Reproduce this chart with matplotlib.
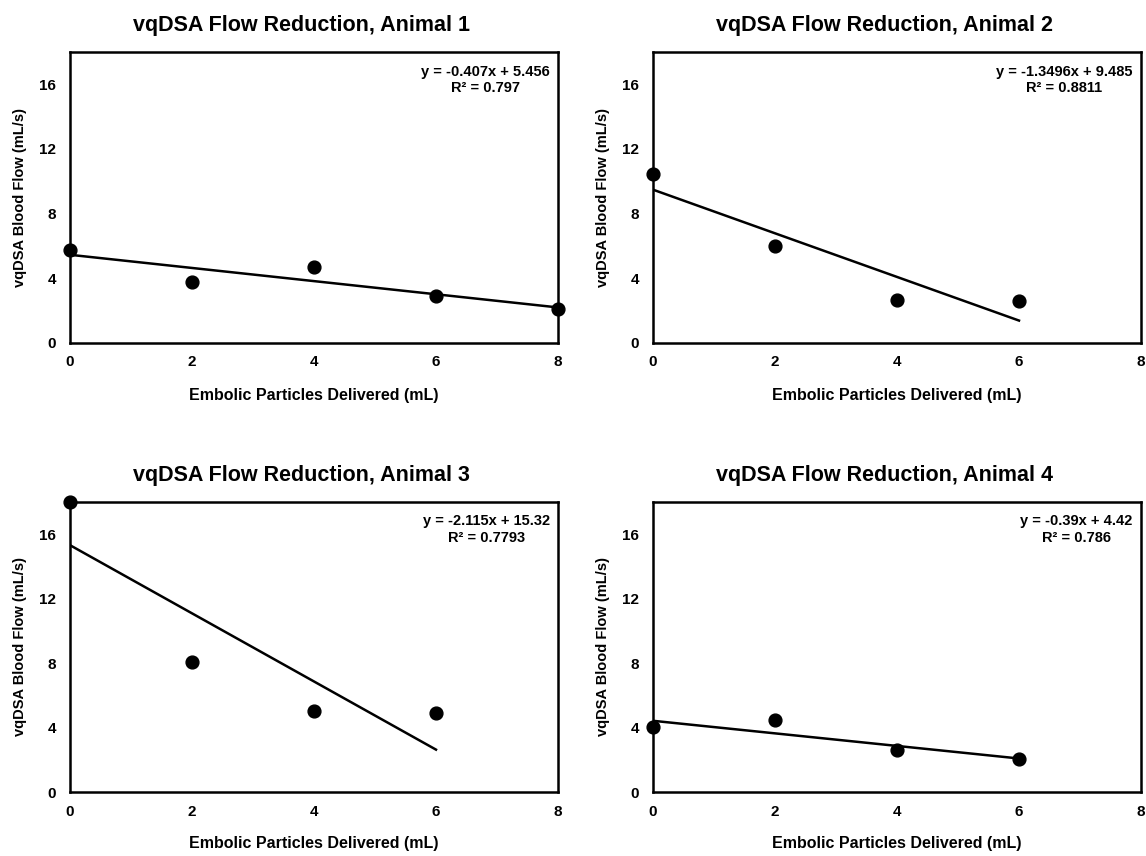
"""
vqDSA blood flow versus embolic particle volume, one panel per animal.
"""

import matplotlib

matplotlib.use("Agg")
import matplotlib.pyplot as plt

plt.rcParams["font.family"] = ["Liberation Sans", "DejaVu Sans"]
plt.rcParams["font.weight"] = "bold"

# Embolic particles delivered (mL)
dose_a1 = [0, 2, 4, 6, 8]
dose_a2 = [0, 2, 4, 6]
dose_a3 = [0, 2, 4, 6]
dose_a4 = [0, 2, 4, 6]

# vqDSA blood flow (mL/s)
flow_a1 = [5.78, 3.76, 4.72, 2.89, 2.10]
flow_a2 = [10.47, 5.99, 2.68, 2.58]
flow_a3 = [18.0, 8.05, 5.02, 4.92]
flow_a4 = [4.02, 4.46, 2.62, 2.06]

# Linear trendline fits: slope, intercept, R²
slopes = [-0.407, -1.3496, -2.115, -0.39]
intercepts = [5.456, 9.485, 15.32, 4.42]
r_squared = ["0.797", "0.8811", "0.7793", "0.786"]
slope_text = ["-0.407", "-1.3496", "-2.115", "-0.39"]
intercept_text = ["5.456", "9.485", "15.32", "4.42"]

doses = [dose_a1, dose_a2, dose_a3, dose_a4]
flows = [flow_a1, flow_a2, flow_a3, flow_a4]
titles = [f"vqDSA Flow Reduction, Animal {i}" for i in range(1, 5)]

x_ticks = [0, 2, 4, 6, 8]
y_ticks = [0, 4, 8, 12, 16]

fig = plt.figure(figsize=(11.46, 8.56), dpi=100)

W, H = 1146, 856
boxes = [
    (70, 52, 558, 343),
    (653, 52, 1141, 343),
    (70, 502, 558, 792),
    (653, 502, 1141, 792),
]

for i, (x0, y0, x1, y1) in enumerate(boxes):
    ax = fig.add_axes([x0 / W, 1 - y1 / H, (x1 - x0) / W, (y1 - y0) / H])
    x = doses[i]
    y = flows[i]

    ax.scatter(x, y, s=85, color="black", zorder=3, clip_on=False)

    fit_x = [0, max(x)]
    fit_y = [slopes[i] * v + intercepts[i] for v in fit_x]
    ax.plot(fit_x, fit_y, color="black", linewidth=1.8, zorder=2)

    ax.text(
        0.983, 0.905,
        f"y = {slope_text[i]}x + {intercept_text[i]}\nR² = {r_squared[i]}",
        transform=ax.transAxes, ha="right", va="center",
        multialignment="center", fontsize=10.5, fontweight="bold",
        linespacing=1.2,
    )

    ax.set_xlim(0, 8)
    ax.set_ylim(0, 18)
    ax.set_xticks(x_ticks)
    ax.set_yticks(y_ticks)
    ax.tick_params(length=0, labelsize=11)
    ax.tick_params(axis="x", pad=9)
    ax.tick_params(axis="y", pad=10)
    for label in ax.get_xticklabels() + ax.get_yticklabels():
        label.set_fontweight("bold")

    for spine in ax.spines.values():
        spine.set_linewidth(1.8)
        spine.set_color("black")

    ax.set_title(titles[i], fontsize=15.5, fontweight="bold", pad=15, x=0.475)
    ax.set_xlabel("Embolic Particles Delivered (mL)", fontsize=11.5, fontweight="bold")
    ax.set_ylabel("vqDSA Blood Flow (mL/s)", fontsize=10.5, fontweight="bold")
    ax.xaxis.set_label_coords(0.5, -0.179)
    ax.xaxis.label.set_va("center")
    ax.yaxis.set_label_coords(-0.102, 0.5)
    ax.yaxis.label.set_va("center")

fig.savefig("out.png", dpi=100, facecolor="white")
